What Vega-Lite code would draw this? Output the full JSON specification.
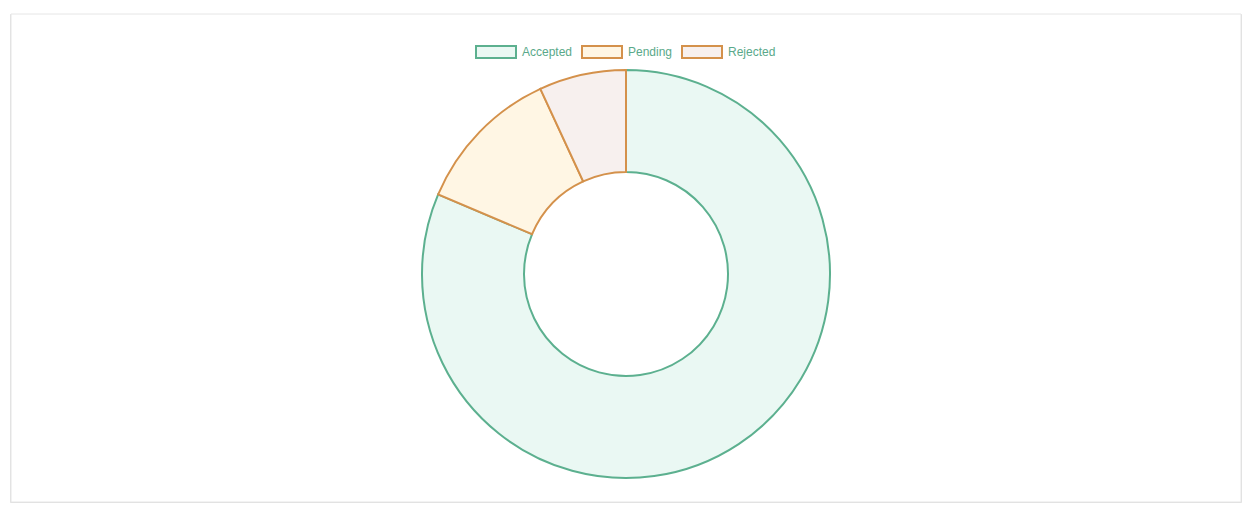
{
  "$schema": "https://vega.github.io/schema/vega-lite/v6.json",
  "width": 1254,
  "height": 516,
  "autosize": {"type": "fit", "contains": "padding"},
  "padding": {"left": 10, "top": 13, "right": 12, "bottom": 13},
  "background": "#ffffff",
  "config": {
    "view": {"stroke": null},
    "font": "Liberation Sans"
  },
  "data": {
    "values": [
      {"status": "Accepted", "count": 118},
      {"status": "Pending", "count": 17},
      {"status": "Rejected", "count": 10}
    ]
  },
  "layer": [
    {
      "data": {"values": [{"card": 1}]},
      "mark": {"type": "rect", "fill": "#ffffff", "stroke": "#c9c9c9", "strokeWidth": 1.5, "yOffset": 1, "strokeOpacity": 0.8},
      "encoding": {}
    },
    {
      "data": {"values": [{"card": 1}]},
      "mark": {"type": "rect", "fill": "#ffffff", "stroke": "#e6e6e6", "strokeWidth": 1},
      "encoding": {}
    },
    {
      "mark": {
        "type": "arc",
        "outerRadius": 204,
        "innerRadius": 102,
        "strokeWidth": 2,
        "yOffset": 16
      },
      "encoding": {
        "theta": {"field": "count", "type": "quantitative", "stack": true},
        "order": {"field": "status", "sort": "ascending"},
        "fill": {
          "field": "status",
          "type": "nominal",
          "scale": {"domain": ["Accepted", "Pending", "Rejected"], "range": ["#eaf8f3", "#fff6e4", "#f7f0ee"]},
          "legend": {
            "title": null,
            "orient": "none",
            "direction": "horizontal",
            "legendX": 464,
            "legendY": 17,
            "zindex": 1,
            "symbolType": "M-1,-0.3L1,-0.3L1,0.3L-1,0.3Z",
            "symbolSize": 1600,
            "symbolStrokeWidth": 2,
            "symbolOpacity": 1,
            "labelColor": "#5aa98a",
            "labelFont": "Liberation Sans",
            "labelFontSize": 12,
            "labelOffset": 5,
            "columnPadding": 5
          }
        },
        "stroke": {
          "field": "status",
          "type": "nominal",
          "scale": {"domain": ["Accepted", "Pending", "Rejected"], "range": ["#5cb08f", "#d4914b", "#d4914b"]},
          "legend": {
            "title": null,
            "orient": "none",
            "direction": "horizontal",
            "legendX": 464,
            "legendY": 17,
            "zindex": 1,
            "symbolType": "M-1,-0.3L1,-0.3L1,0.3L-1,0.3Z",
            "symbolSize": 1600,
            "symbolStrokeWidth": 2,
            "labelColor": "#5aa98a",
            "labelFont": "Liberation Sans",
            "labelFontSize": 12,
            "labelOffset": 5,
            "columnPadding": 5
          }
        }
      }
    }
  ]
}
